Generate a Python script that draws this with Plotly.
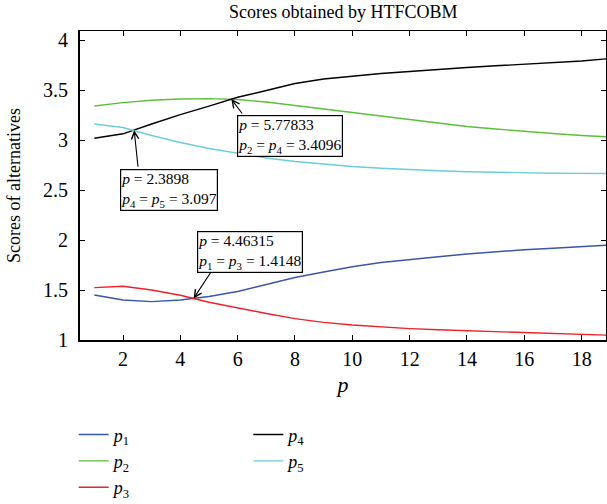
import plotly.graph_objects as go

# ---------------- data ----------------
p_values = list(range(1, 20))
p1 = [1.45, 1.40, 1.384, 1.40, 1.435, 1.485, 1.555, 1.625, 1.68, 1.733,
      1.775, 1.806, 1.833, 1.860, 1.884, 1.903, 1.918, 1.933, 1.950]
p2 = [3.34, 3.374, 3.397, 3.41, 3.414, 3.405, 3.38, 3.345, 3.305, 3.27,
      3.235, 3.20, 3.165, 3.135, 3.11, 3.085, 3.065, 3.045, 3.03]
p3 = [1.524, 1.537, 1.50, 1.448, 1.378, 1.32, 1.265, 1.214, 1.176, 1.15,
      1.13, 1.114, 1.102, 1.092, 1.082, 1.072, 1.064, 1.056, 1.047]
p4 = [3.017, 3.062, 3.16, 3.253, 3.338, 3.427, 3.495, 3.565, 3.61, 3.64,
      3.665, 3.685, 3.707, 3.725, 3.742, 3.758, 3.773, 3.79, 3.815]
p5 = [3.16, 3.125, 3.045, 2.975, 2.915, 2.865, 2.82, 2.785, 2.757, 2.735,
      2.717, 2.703, 2.692, 2.683, 2.676, 2.671, 2.668, 2.666, 2.665]

series_names = ["<i>p</i><sub>1</sub>", "<i>p</i><sub>2</sub>", "<i>p</i><sub>3</sub>",
                "<i>p</i><sub>4</sub>", "<i>p</i><sub>5</sub>"]
series_values = [p1, p2, p3, p4, p5]
series_colors = ["#3a56a8", "#5cbf3a", "#ee2028", "#000000", "#6cccdc"]
series_legend = ["legend", "legend", "legend", "legend2", "legend2"]

# crossing points (from the chart's annotations)
cross_p = [5.77833, 2.3898, 4.46315]
cross_v = [3.4096, 3.097, 1.4148]
cross_text = [
    "<i>p</i> = 5.77833<br><i>p</i><sub>2</sub> = <i>p</i><sub>4</sub> = 3.4096",
    "<i>p</i> = 2.3898<br><i>p</i><sub>4</sub> = <i>p</i><sub>5</sub> = 3.097",
    "<i>p</i> = 4.46315<br><i>p</i><sub>1</sub> = <i>p</i><sub>3</sub> = 1.4148",
]
box_p = [5.96, 1.885, 4.57]
box_v = [3.247, 2.707, 2.087]
arrow_ax = [12, 4, 21]
arrow_ay = [16, 38, -32]

x_ticks = [2, 4, 6, 8, 10, 12, 14, 16, 18]
y_ticks = [1, 1.5, 2, 2.5, 3, 3.5, 4]

FONT = "Liberation Serif"

fig = go.Figure()
for name, vals, col, lg in zip(series_names, series_values, series_colors, series_legend):
    fig.add_trace(go.Scatter(x=p_values, y=vals, mode="lines", name=name,
                             line=dict(color=col, width=1.4), legend=lg))

annotations = []
for cp, cv, ax, ay in zip(cross_p, cross_v, arrow_ax, arrow_ay):
    annotations.append(dict(x=cp, y=cv, xref="x", yref="y", text="", showarrow=True,
                            ax=ax, ay=ay, arrowhead=5, arrowsize=1.3, arrowwidth=1.1,
                            arrowcolor="black"))
for bp, bv, txt in zip(box_p, box_v, cross_text):
    annotations.append(dict(x=bp, y=bv, xref="x", yref="y", text=txt, showarrow=False,
                            xanchor="left", yanchor="top", align="left",
                            bordercolor="black", borderwidth=1.2, borderpad=0,
                            bgcolor="white", font=dict(family=FONT, size=15.5, color="black")))

axis_common = dict(showgrid=False, zeroline=False, ticks="inside", ticklen=5,
                   tickcolor="black", tickwidth=1.2, linecolor="black", automargin=False)
tickfont = dict(family=FONT, size=20, color="black")

fig.update_layout(
    width=607, height=504,
    margin=dict(l=80, r=1, t=31, b=164, autoexpand=False),
    paper_bgcolor="white", plot_bgcolor="white",
    font=dict(family=FONT, color="black"),
    title=dict(text="Scores obtained by HTFCOBM", x=0.5655, xanchor="center",
               y=1 - 12 / 504, yanchor="middle", yref="container",
               font=dict(family=FONT, size=18, color="black")),
    xaxis=dict(range=[0.5, 18.85], tickvals=x_ticks, linewidth=2, showline=True,
               ticklabelstandoff=0, tickfont=tickfont,
               title=dict(text="<i>p</i>", font=dict(family=FONT, size=22), standoff=8),
               **axis_common),
    yaxis=dict(range=[1, 4.09], tickvals=y_ticks, ticktext=[f"{v:g}" for v in y_ticks],
               linewidth=2, showline=True, ticklabelstandoff=6, tickfont=tickfont,
               title=dict(text="Scores of alternatives", font=dict(family=FONT, size=18),
                          standoff=18),
               **axis_common),
    xaxis2=dict(range=[0.5, 18.85], tickvals=x_ticks, overlaying="x", side="top",
                showticklabels=False, linewidth=1, showline=True, **axis_common),
    yaxis2=dict(range=[1, 4.09], tickvals=y_ticks, overlaying="y", side="right",
                showticklabels=False, linewidth=1, showline=True, **axis_common),
    legend=dict(x=-0.012, y=-0.247, xanchor="left", yanchor="top", orientation="v",
                font=dict(family=FONT, size=18, color="black"), tracegroupgap=0,
                bgcolor="rgba(0,0,0,0)", itemwidth=30),
    legend2=dict(x=0.32, y=-0.247, xanchor="left", yanchor="top", orientation="v",
                 font=dict(family=FONT, size=18, color="black"), tracegroupgap=0,
                 bgcolor="rgba(0,0,0,0)", itemwidth=30),
    annotations=annotations,
)

# invisible trace to activate the mirrored axes
fig.add_trace(go.Scatter(x=[None], y=[None], xaxis="x2", yaxis="y2", showlegend=False,
                         hoverinfo="skip"))

fig.write_html("out.html", config={"displayModeBar": False},
               post_script="document.body.style.margin='0px';document.body.style.overflow='hidden';")
